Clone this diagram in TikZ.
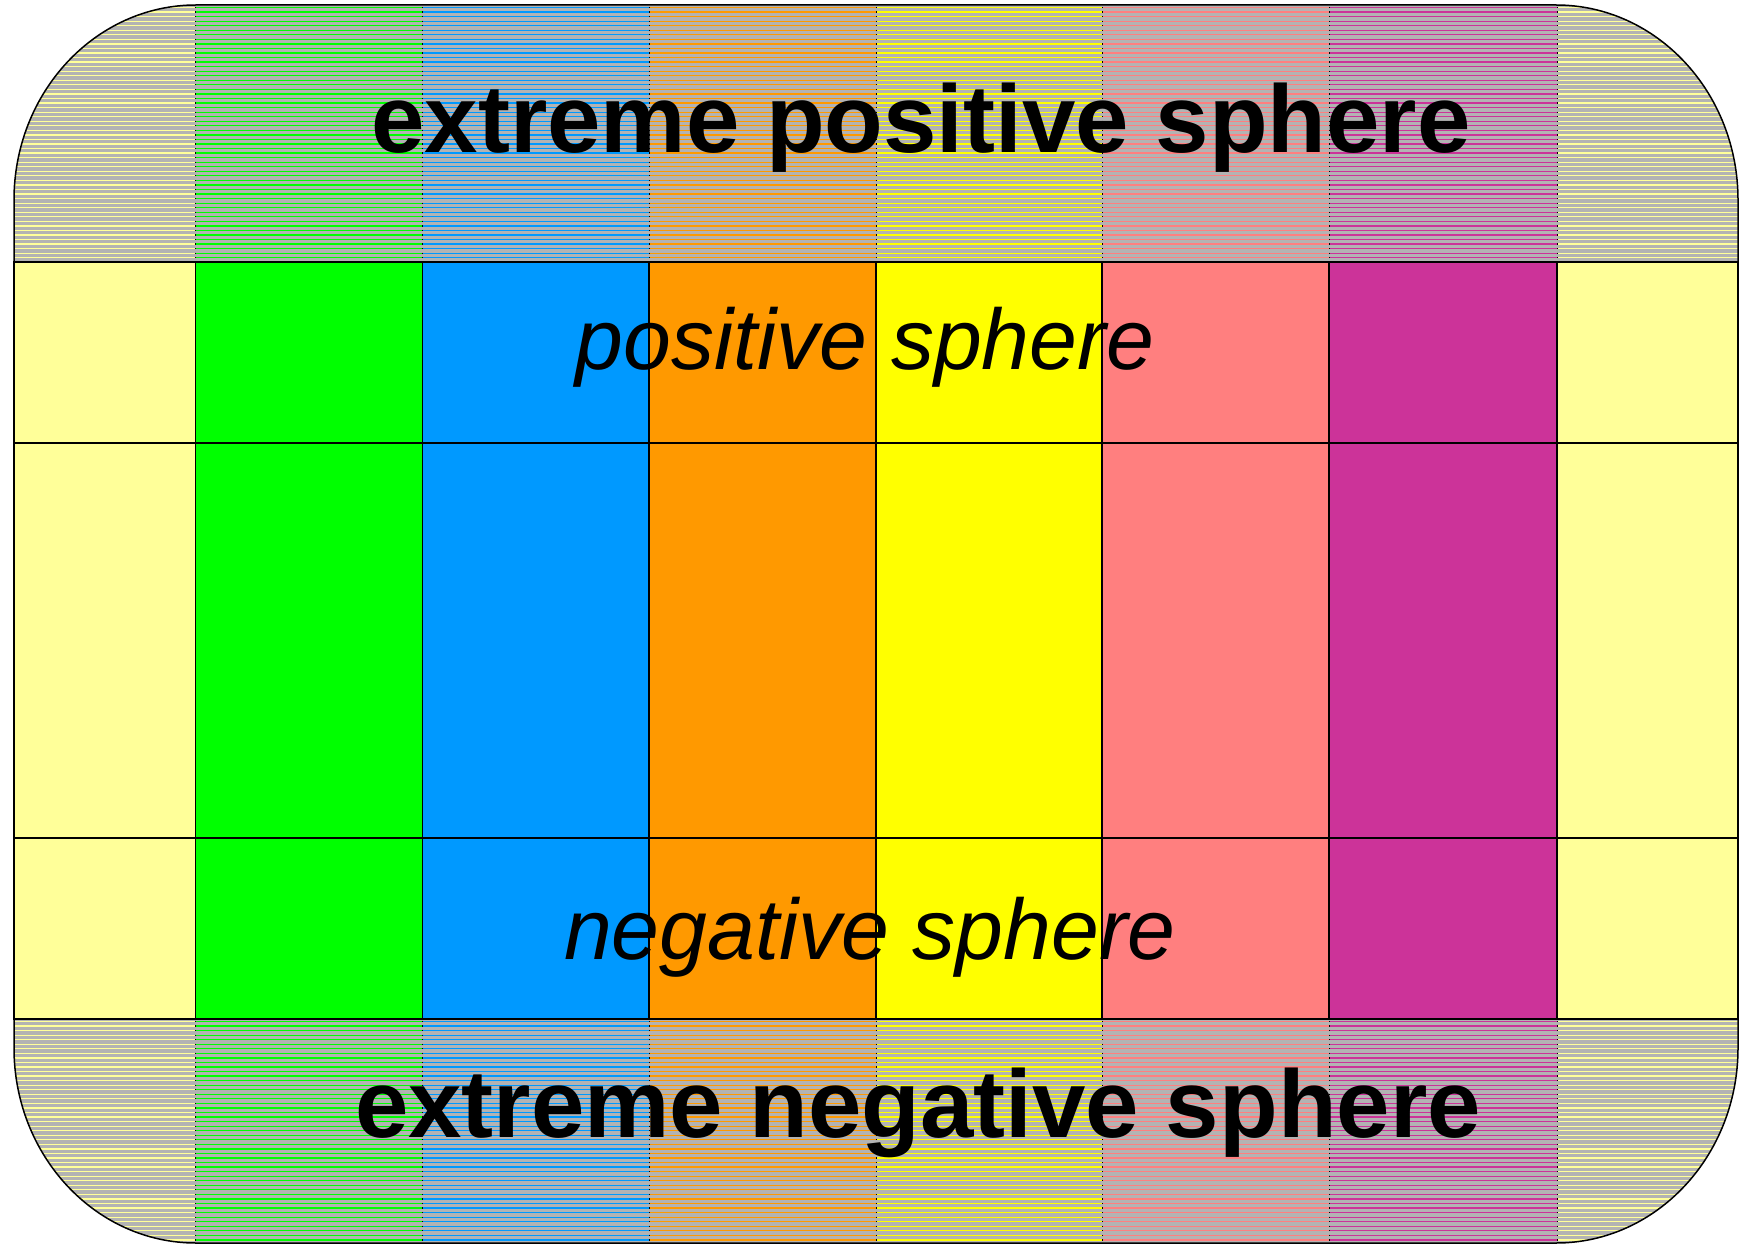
\documentclass[tikz,border=0pt]{standalone}
\usepackage{fontspec}
\setmainfont{Liberation Sans}
\definecolor{lemon}{HTML}{FFFF99}
\definecolor{lime}{HTML}{00FF00}
\definecolor{sky}{HTML}{0099FF}
\definecolor{amber}{HTML}{FF9900}
\definecolor{canary}{HTML}{FFFF00}
\definecolor{salmon}{HTML}{FF7F7F}
\definecolor{plum}{HTML}{CC3399}
\definecolor{ash}{HTML}{B3B3B3}
% columns: left edge / right edge / colour
\newcommand\colspec{14/195.5/lemon,195.5/422.5/lime,422.5/649/sky,649/876/amber,876/1102/canary,1102/1329/salmon,1329/1557/plum,1557/1738/lemon}
% outer rounded shell
\newcommand\shellpath{(196,5) -- (1556,5) arc[start angle=90,end angle=0,x radius=182,y radius=-195]
  -- (1738,1048) arc[start angle=0,end angle=-90,x radius=182,y radius=-195]
  -- (196,1243) arc[start angle=-90,end angle=-180,x radius=182,y radius=-195]
  -- (14,200) arc[start angle=180,end angle=90,x radius=182,y radius=-195] -- cycle}
\begin{document}
\begin{tikzpicture}[x=1pt,y=-1pt,
  hatch/.style={line width=1.25pt},
  sepline/.style={line width=1pt,dash pattern=on 1.25pt off 3.3pt},
  cell/.style={draw=black,line width=1.5pt},
  bigtext/.style={font=\fontsize{96}{110}\selectfont\bfseries,anchor=base,inner sep=0pt},
  midtext/.style={font=\fontsize{86}{100}\selectfont\itshape,anchor=base,inner sep=0pt}]
\useasboundingbox (0,0) rectangle (1742,1246);
% hatched bands
\begin{scope}
\clip \shellpath;
\fill[ash] (0,0) rectangle (1742,262);
\fill[ash] (0,1019) rectangle (1742,1246);
\foreach \xa/\xb/\c in \colspec {
  \foreach \k in {0,...,55}
    \draw[hatch,\c] (\xa,{7.5+4.55*\k}) -- (\xb,{7.5+4.55*\k});
  \foreach \k in {0,...,48}
    \draw[hatch,\c] (\xa,{1021.5+4.55*\k}) -- (\xb,{1021.5+4.55*\k});
}
\foreach \x in {195.5,422.5,649,876,1102,1329,1557} {
  \draw[sepline] (\x,6.875) -- (\x,262);
  \draw[sepline] (\x,1020.875) -- (\x,1243);
}
\end{scope}
% coloured columns
\foreach \xa/\xb/\c in \colspec {
  \draw[cell,fill=\c] (\xa,262) rectangle (\xb,443);
  \draw[cell,fill=\c] (\xa,443) rectangle (\xb,838);
  \draw[cell,fill=\c] (\xa,838) rectangle (\xb,1019);
}
\draw[cell] \shellpath;
% labels
\node[bigtext] (xpos) at (921,153) {extreme positive sphere};
\node[midtext] (pos) at (865,370) {positive sphere};
\node[midtext] (neg) at (870,959) {negative sphere};
\node[bigtext] (xneg) at (918,1137) {extreme negative sphere};
\end{tikzpicture}
\end{document}
